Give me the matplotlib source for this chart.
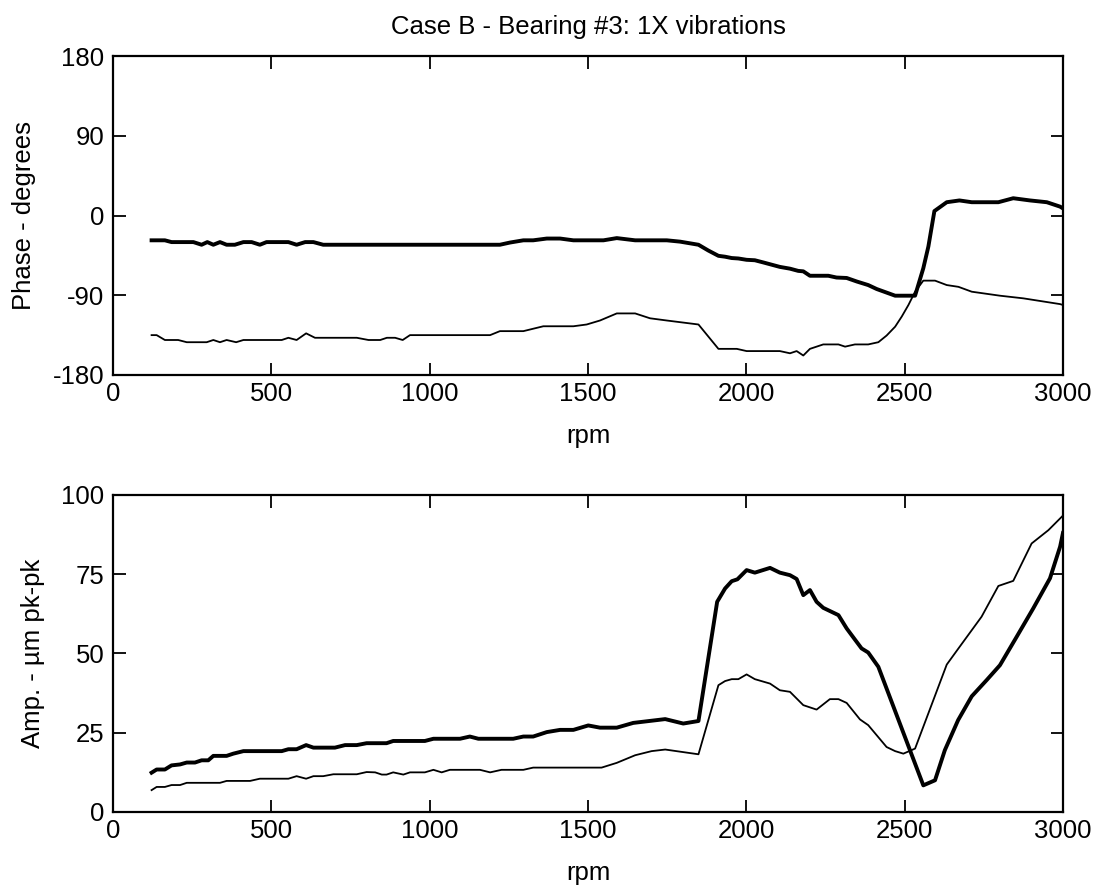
import numpy as np
import matplotlib
matplotlib.use("Agg")
import matplotlib.pyplot as plt

# phase, thick trace
rpm_ph1 = [122, 164, 185, 254, 280, 298, 317, 338, 359, 385, 412, 438, 464, 485,
           554, 580, 607, 633, 664, 1222, 1254, 1296, 1327, 1370, 1412, 1454,
           1549, 1591, 1649, 1749, 1791, 1849, 1880, 1912, 1933, 1954, 1975,
           2001, 2027, 2054, 2106, 2138, 2164, 2180, 2201, 2259, 2285, 2317,
           2349, 2385, 2412, 2443, 2470, 2533, 2559, 2575, 2594, 2633, 2673,
           2712, 2796, 2843, 2896, 2949, 2991, 3000]
ph1 = [-28, -28, -30, -30, -33, -30, -33, -30, -33, -33, -30, -30, -33, -30,
       -30, -33, -30, -30, -33, -33, -30.5, -28, -28, -26, -26, -28,
       -28, -25.5, -28, -28, -29.5, -33, -39.5, -45.5, -46.5, -48, -48.5,
       -50, -50.5, -53, -58, -60, -62.5, -63, -68, -68, -70, -70.5,
       -74.5, -78.5, -83, -87, -90.5, -90.5, -59.5, -35, 5, 15, 17,
       15, 15, 19.5, 17, 15, 10, 8]

# phase, thin trace
rpm_ph2 = [122, 138, 164, 206, 233, 296, 317, 338, 359, 389, 412, 533, 554, 580,
           610, 638, 770, 807, 844, 865, 891, 915, 938, 1191, 1222, 1296, 1359,
           1454, 1496, 1538, 1591, 1649, 1696, 1749, 1849, 1912, 1970, 2001,
           2106, 2138, 2159, 2180, 2201, 2243, 2291, 2312, 2343, 2385, 2417,
           2443, 2470, 2491, 2512, 2533, 2559, 2596, 2633, 2670, 2712, 2801,
           2875, 2991, 3000]
ph2 = [-135, -135, -140.5, -140.5, -143, -143, -140.5, -143, -140.5, -143, -140.5,
       -140.5, -138, -140.5, -133, -138, -138, -140.5, -140.5, -138, -138, -140.5,
       -135, -135, -130.5, -130.5, -125, -125, -123, -118.5, -110.5, -110.5, -116,
       -118.5, -123, -150.5, -150.5, -153, -153, -155.5, -153, -158, -150.5,
       -145.5, -145.5, -148, -145.5, -145.5, -143, -135.5, -125.5, -114, -101,
       -86, -73.5, -73.5, -78.5, -80.5, -86, -90.5, -93.5, -100, -101]

# amplitude, thick trace
rpm_amp1 = [122, 138, 164, 185, 212, 233, 259, 280, 301, 317, 359, 380, 412, 533,
            554, 580, 610, 633, 701, 733, 770, 801, 864, 885, 985, 1012, 1096,
            1127, 1154, 1264, 1296, 1327, 1370, 1412, 1454, 1501, 1538, 1591,
            1643, 1744, 1801, 1849, 1908, 1933, 1954, 1972, 2001, 2027, 2075,
            2106, 2138, 2159, 2180, 2201, 2222, 2243, 2291, 2317, 2343, 2364,
            2385, 2417, 2559, 2596, 2627, 2669, 2712, 2759, 2801, 2854, 2906,
            2959, 2991, 3000]
amp1 = [12.4, 13.4, 13.4, 14.7, 15, 15.6, 15.6, 16.3, 16.3, 17.7, 17.7, 18.4, 19.2,
        19.2, 19.8, 19.8, 21.1, 20.3, 20.3, 21.1, 21.1, 21.7, 21.7, 22.4, 22.4,
        23.1, 23.1, 23.8, 23.1, 23.1, 23.8, 23.8, 25.2, 25.9, 25.9, 27.3, 26.6,
        26.6, 28.1, 29.3, 27.9, 28.7, 66.3, 70.5, 72.8, 73.4, 76.3, 75.5, 77,
        75.5, 74.7, 73.5, 68.4, 70, 66.3, 64.4, 62.1, 57.9, 54.4, 51.6, 50.3,
        45.8, 8.4, 10, 19.5, 29, 36.5, 41.6, 46.3, 55.3, 64.2, 73.7, 83.7, 88]

# amplitude, thin trace
rpm_amp2 = [122, 138, 164, 185, 212, 233, 338, 359, 433, 464, 554, 580, 610, 633,
            664, 696, 770, 801, 828, 849, 864, 885, 917, 938, 985, 1012, 1038,
            1064, 1159, 1191, 1227, 1296, 1327, 1543, 1591, 1649, 1701, 1744,
            1849, 1912, 1933, 1954, 1975, 2001, 2027, 2075, 2106, 2138, 2180,
            2222, 2264, 2291, 2317, 2359, 2385, 2443, 2470, 2496, 2533, 2633,
            2670, 2743, 2796, 2843, 2901, 2954, 2991, 3000]
amp2 = [6.9, 7.9, 7.9, 8.5, 8.5, 9.2, 9.2, 9.8, 9.8, 10.5, 10.5, 11.3, 10.5, 11.3,
        11.3, 11.9, 11.9, 12.6, 12.5, 11.8, 11.8, 12.5, 11.8, 12.5, 12.5, 13.3,
        12.5, 13.3, 13.3, 12.5, 13.3, 13.3, 14, 14, 15.5, 17.9, 19.2, 19.7,
        18.2, 40, 41.3, 41.9, 41.9, 43.4, 41.9, 40.5, 38.4, 37.9, 33.7, 32.3,
        35.6, 35.6, 34.4, 29.2, 27.4, 20.5, 19.2, 18.4, 20, 46.5, 51.6, 61.6,
        71.3, 72.9, 84.7, 88.9, 92.6, 93.5]

ph_ticks = [-180, -90, 0, 90, 180]
amp_ticks = [0, 25, 50, 75, 100]
rpm_ticks = [0, 500, 1000, 1500, 2000, 2500, 3000]

plt.rcParams["font.family"] = ["Liberation Sans", "DejaVu Sans"]
plt.rcParams["axes.unicode_minus"] = False
fs = 18.5

fig = plt.figure(figsize=(11.03, 8.92), dpi=100)
ax1 = fig.add_axes([0.1024, 0.5796, 0.8613, 0.3576])
ax2 = fig.add_axes([0.1024, 0.0897, 0.8613, 0.3554])


def style(ax, yticks):
    ax.set_xlim(0, 3000)
    ax.set_xticks(rpm_ticks)
    ax.set_yticks(yticks)
    ax.set_ylim(yticks[0], yticks[-1])
    ax.tick_params(direction="in", length=9, width=1.3, top=True, right=True,
                   labelsize=fs)
    ax.tick_params(axis="x", pad=5)
    ax.tick_params(axis="y", pad=6)
    for s in ax.spines.values():
        s.set_linewidth(1.6)
    ax.set_xlabel("rpm", fontsize=fs, labelpad=13)


ax1.plot(rpm_ph1, ph1, color="black", lw=2.8)
ax1.plot(rpm_ph2, ph2, color="black", lw=1.3)
style(ax1, ph_ticks)
ax1.set_ylabel("Phase - degrees", fontsize=fs, labelpad=12)
ax1.set_title("Case B - Bearing #3: 1X vibrations", fontsize=fs, pad=16)

ax2.plot(rpm_amp1, amp1, color="black", lw=2.8)
ax2.plot(rpm_amp2, amp2, color="black", lw=1.3)
style(ax2, amp_ticks)
ax2.set_ylabel("Amp. - µm pk-pk", fontsize=fs, labelpad=12)

fig.savefig("out.png", dpi=100)
